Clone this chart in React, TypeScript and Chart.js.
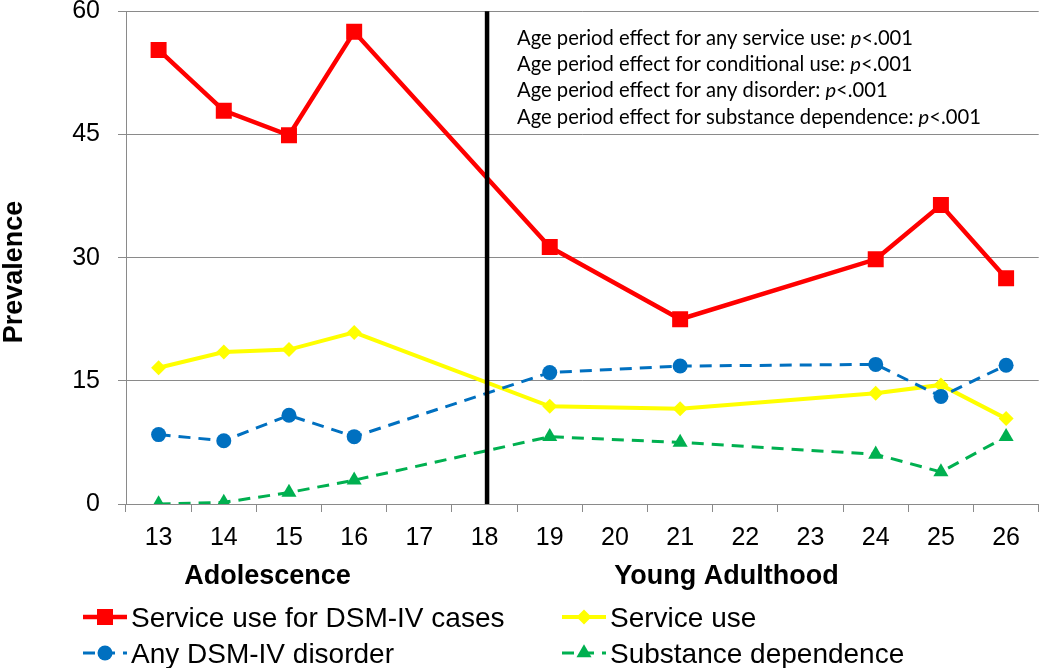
import React, { useEffect, useRef } from 'react';
import { Chart, registerables } from 'chart.js';

Chart.register(...registerables);

// ---- data ----
const ages = ['13', '14', '15', '16', '17', '18', '19', '20', '21', '22', '23', '24', '25', '26'];
const serviceUseDsmCases = [55.3, 47.9, 44.9, 57.5, null, null, 31.3, null, 22.5, null, null, 29.8, 36.4, 27.5];
const serviceUse = [16.6, 18.5, 18.8, 20.9, null, null, 11.9, null, 11.6, null, null, 13.5, 14.5, 10.4];
const anyDsmDisorder = [8.45, 7.7, 10.8, 8.2, null, null, 16.0, null, 16.8, null, null, 17.0, 13.1, 16.9];
const substanceDependence = [0, 0.2, 1.4, 2.9, null, null, 8.2, null, 7.5, null, null, 6.05, 3.9, 8.2];
const yTickValues = [0, 15, 30, 45, 60];
const seriesNames = ['Service use for DSM-IV cases', 'Service use', 'Any DSM-IV disorder', 'Substance dependence'];
const periodNames = ['Adolescence', 'Young Adulthood'];
const dividerAge = '18';
const annotationLines = [
  ['Age period effect for any service use: ', 'p', '<.001'],
  ['Age period effect for conditional use: ', 'p', '<.001'],
  ['Age period effect for any disorder: ', 'p', '<.001'],
  ['Age period effect for substance dependence: ', 'p', '<.001'],
];
const yAxisTitle = 'Prevalence';

const ARIAL = '"Liberation Sans", Arial, sans-serif';
const CALIBRI = 'Lato, "Open Sans", sans-serif';
const GRID = '#8a8a8a';

function drawMarker(ctx: CanvasRenderingContext2D, style: string, x: number, y: number, r: number, color: string) {
  ctx.save();
  ctx.fillStyle = color;
  ctx.setLineDash([]);
  ctx.beginPath();
  if (style === 'rect') {
    const s = Math.SQRT1_2 * r;
    ctx.rect(x - s, y - s, 2 * s, 2 * s);
  } else if (style === 'rectRot') {
    ctx.moveTo(x - r, y);
    ctx.lineTo(x, y - r);
    ctx.lineTo(x + r, y);
    ctx.lineTo(x, y + r);
    ctx.closePath();
  } else if (style === 'triangle') {
    const t = (2 * Math.PI) / 3;
    let a = 0;
    ctx.moveTo(x + Math.sin(a) * r, y - Math.cos(a) * r);
    a += t;
    ctx.lineTo(x + Math.sin(a) * r, y - Math.cos(a) * r);
    a += t;
    ctx.lineTo(x + Math.sin(a) * r, y - Math.cos(a) * r);
    ctx.closePath();
  } else {
    ctx.arc(x, y, r, 0, Math.PI * 2);
  }
  ctx.fill();
  ctx.restore();
}

const overlayPlugin = {
  id: 'overlay',
  afterDatasetsDraw(chart: any) {
    const { ctx, chartArea, scales } = chart;
    const x = scales.x;
    const xi = x.getPixelForValue(ages.indexOf(dividerAge)) + 2.5;
    ctx.save();
    ctx.strokeStyle = '#000';
    ctx.lineWidth = 4.5;
    ctx.beginPath();
    ctx.moveTo(xi, chartArea.top);
    ctx.lineTo(xi, chartArea.bottom);
    ctx.stroke();
    ctx.restore();
  },
  afterDraw(chart: any) {
    const { ctx, scales } = chart;
    const x = scales.x;
    ctx.save();
    ctx.fillStyle = '#000';

    // annotation text block
    ctx.textBaseline = 'alphabetic';
    ctx.textAlign = 'left';
    annotationLines.forEach((parts, i) => {
      let cx = 517;
      const by = 45 + i * 26.2;
      parts.forEach((p, j) => {
        ctx.font = (j === 1 ? 'italic ' : '') + '20.2px ' + CALIBRI;
        ctx.fillText(p, cx, by);
        cx += ctx.measureText(p).width;
      });
    });

    // period labels under x axis
    ctx.font = 'bold 27px ' + ARIAL;
    ctx.textAlign = 'center';
    ctx.fillText(periodNames[0], x.getPixelForValue(1.67), 584);
    ctx.fillText(periodNames[1], x.getPixelForValue(8.71), 584);

    // y axis title
    ctx.save();
    ctx.translate(22, 272);
    ctx.rotate(-Math.PI / 2);
    ctx.font = 'bold 27px ' + ARIAL;
    ctx.textAlign = 'center';
    ctx.textBaseline = 'alphabetic';
    ctx.fillText(yAxisTitle, 0, 0);
    ctx.restore();

    // legend (2 columns, row-major)
    const colX = [105, 584];
    const rowY = [617, 653];
    [0, 1, 2, 3].forEach((di, k) => {
      const ds = chart.data.datasets[di];
      const cxm = colX[k % 2];
      const cym = rowY[Math.floor(k / 2)];
      ctx.save();
      ctx.strokeStyle = ds.borderColor;
      ctx.lineWidth = ds.borderWidth;
      ctx.setLineDash(ds.borderDash || []);
      ctx.beginPath();
      ctx.moveTo(cxm - 22, cym);
      ctx.lineTo(cxm + 22, cym);
      ctx.stroke();
      ctx.restore();
      drawMarker(ctx, ds.pointStyle, cxm, cym, ds.pointRadius, ds.pointBackgroundColor);
      ctx.font = '28px ' + ARIAL;
      ctx.textAlign = 'left';
      ctx.fillStyle = '#000';
      ctx.fillText(ds.label, cxm + 26, cym + 10);
    });
    ctx.restore();
  },
};

export default function App() {
  const canvasRef = useRef<HTMLCanvasElement | null>(null);

  useEffect(() => {
    const canvas = canvasRef.current;
    if (!canvas) return;
    const chart = new Chart(canvas, {
      type: 'line',
      data: {
        labels: ages,
        datasets: [
          {
            label: seriesNames[0],
            data: serviceUseDsmCases,
            borderColor: '#ff0000',
            backgroundColor: '#ff0000',
            pointBackgroundColor: '#ff0000',
            pointBorderWidth: 0,
            borderWidth: 4.5,
            pointStyle: 'rect',
            pointRadius: 11.3,
            spanGaps: true,
            order: 0,
          },
          {
            label: seriesNames[1],
            data: serviceUse,
            borderColor: '#ffff00',
            backgroundColor: '#ffff00',
            pointBackgroundColor: '#ffff00',
            pointBorderWidth: 0,
            borderWidth: 4,
            pointStyle: 'rectRot',
            pointRadius: 7.5,
            spanGaps: true,
            order: 2,
          },
          {
            label: seriesNames[2],
            data: anyDsmDisorder,
            borderColor: '#0070c0',
            backgroundColor: '#0070c0',
            pointBackgroundColor: '#0070c0',
            pointBorderWidth: 0,
            borderWidth: 3,
            borderDash: [12, 8],
            pointStyle: 'circle',
            pointRadius: 7.5,
            spanGaps: true,
            order: 1,
          },
          {
            label: seriesNames[3],
            data: substanceDependence,
            borderColor: '#00b050',
            backgroundColor: '#00b050',
            pointBackgroundColor: '#00b050',
            pointBorderWidth: 0,
            borderWidth: 3,
            borderDash: [12, 8],
            pointStyle: 'triangle',
            pointRadius: 8.7,
            spanGaps: true,
            order: 3,
          },
        ],
      },
      options: {
        responsive: false,
        animation: false,
        devicePixelRatio: 1,
        layout: { padding: { left: 0, right: 9, top: 11, bottom: 0 } },
        plugins: {
          legend: { display: false },
          tooltip: { enabled: false },
        },
        elements: { line: { tension: 0 } },
        scales: {
          x: {
            type: 'category',
            offset: true,
            grid: {
              offset: true,
              drawOnChartArea: false,
              drawTicks: true,
              tickLength: 8,
              color: GRID,
              lineWidth: 1,
            },
            border: { color: GRID, width: 1 },
            ticks: {
              color: '#000',
              font: { family: ARIAL, size: 25 },
              padding: 11,
              maxRotation: 0,
              autoSkip: false,
            },
            afterFit: (scale: any) => {
              scale.height = 164;
              scale.paddingLeft = 0;
              scale.paddingRight = 0;
            },
          },
          y: {
            min: 0,
            max: 60,
            afterBuildTicks: (scale: any) => {
              scale.ticks = yTickValues.map((v) => ({ value: v }));
            },
            grid: {
              color: GRID,
              lineWidth: 1,
              drawTicks: true,
              tickLength: 8,
            },
            border: { color: GRID, width: 1 },
            ticks: {
              color: '#000',
              font: { family: ARIAL, size: 25 },
              padding: 18,
            },
            afterFit: (scale: any) => {
              scale.width = 126;
              scale.paddingTop = 0;
              scale.paddingBottom = 0;
            },
          },
        },
      },
      plugins: [overlayPlugin],
    } as any);
    return () => chart.destroy();
  }, []);

  return (
    <div style={{ position: 'fixed', left: 0, top: 0, width: 1050, height: 668, background: '#fff' }}>
      <canvas ref={canvasRef} width={1050} height={668} />
    </div>
  );
}
